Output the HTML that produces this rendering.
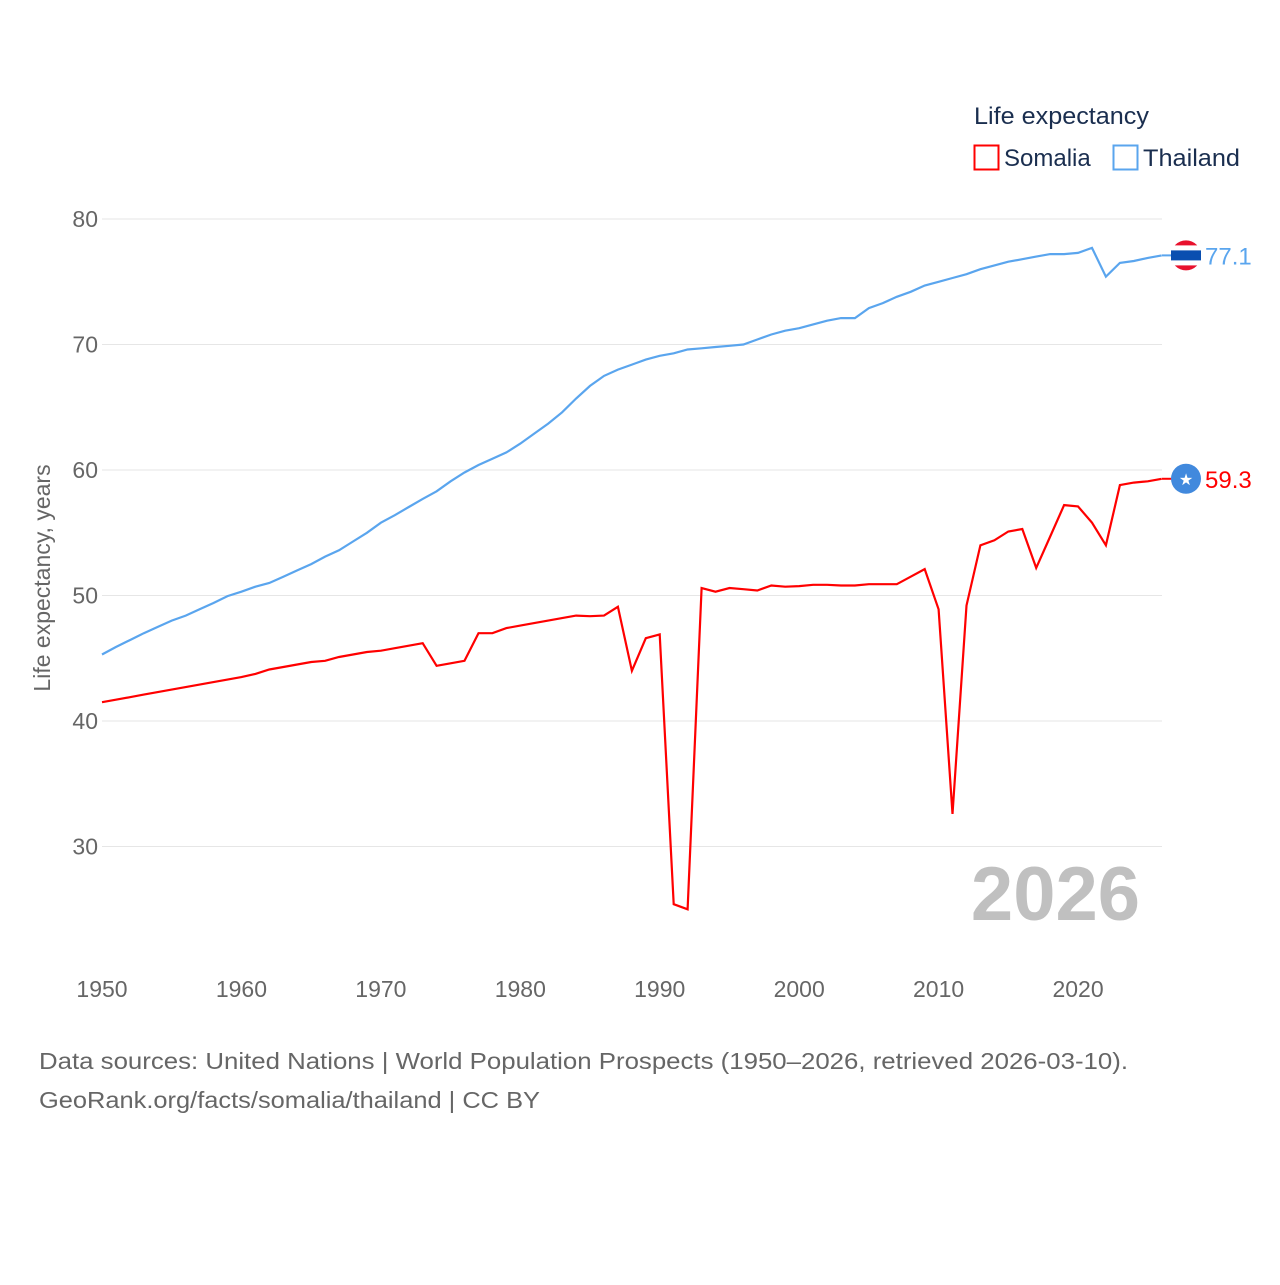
<!DOCTYPE html>
<html><head><meta charset="utf-8"><style>
body{margin:0;background:#fff;width:1280px;height:1280px;overflow:hidden;font-family:"Liberation Sans",sans-serif}
svg text{font-family:"Liberation Sans",sans-serif}
</style></head><body>
<svg id="chart" width="1280" height="1280" xmlns="http://www.w3.org/2000/svg">
<g id="grid"></g>
<g id="yticks"></g>
<g id="xticks"></g>
<text transform="translate(50,578) rotate(-90)" text-anchor="middle" font-size="23" fill="#666">Life expectancy, years</text>
<text x="1140" y="920" text-anchor="end" font-size="76" font-weight="bold" fill="#c0c0c0">2026</text>
<g id="series"></g>
<g>
<text x="974" y="124" font-size="24" fill="#1a2e4f" textLength="175" lengthAdjust="spacingAndGlyphs">Life expectancy</text>
<rect x="974.5" y="145.5" width="24" height="24" fill="none" stroke="#ff0000" stroke-width="2"/>
<text x="1004" y="166" font-size="24" fill="#1a2e4f">Somalia</text>
<rect x="1113.5" y="145.5" width="24" height="24" fill="none" stroke="#5aa5ee" stroke-width="2"/>
<text x="1143" y="166" font-size="24" fill="#1a2e4f" textLength="97" lengthAdjust="spacingAndGlyphs">Thailand</text>
</g>
<text x="39" y="1069" font-size="23" fill="#666" textLength="1089" lengthAdjust="spacingAndGlyphs">Data sources: United Nations | World Population Prospects (1950–2026, retrieved 2026-03-10).</text>
<text x="39" y="1108" font-size="23" fill="#666" textLength="501" lengthAdjust="spacingAndGlyphs">GeoRank.org/facts/somalia/thailand | CC BY</text>
</svg>
<script>
const years=[];for(let y=1950;y<=2026;y++)years.push(y);
const yTicks=[30,40,50,60,70,80];
const xTicks=[1950,1960,1970,1980,1990,2000,2010,2020];
const somalia=[41.5,41.7,41.9,42.1,42.3,42.5,42.7,42.9,43.1,43.3,43.5,43.75,44.1,44.3,44.5,44.7,44.8,45.1,45.3,45.5,45.6,45.8,46.0,46.2,44.4,44.6,44.8,47.0,47.0,47.4,47.6,47.8,48.0,48.2,48.4,48.35,48.4,49.1,44.0,46.6,46.9,25.4,25.0,50.6,50.3,50.6,50.5,50.4,50.8,50.7,50.75,50.85,50.85,50.8,50.8,50.9,50.9,50.9,51.5,52.1,48.9,32.6,49.2,54.0,54.4,55.1,55.3,52.2,54.7,57.2,57.1,55.8,54.0,58.8,59.0,59.1,59.3];
const thailand=[45.3,45.9,46.45,47.0,47.5,48.0,48.4,48.9,49.4,49.95,50.3,50.7,51.0,51.5,52.0,52.5,53.1,53.6,54.3,55.0,55.8,56.4,57.05,57.7,58.3,59.1,59.8,60.4,60.9,61.4,62.1,62.9,63.7,64.6,65.7,66.7,67.5,68.0,68.4,68.8,69.1,69.3,69.6,69.7,69.8,69.9,70.0,70.4,70.8,71.1,71.3,71.6,71.9,72.1,72.1,72.9,73.3,73.8,74.2,74.7,75.0,75.3,75.6,76.0,76.3,76.6,76.8,77.0,77.2,77.2,77.3,77.7,75.4,76.5,76.65,76.9,77.1];
const X=y=>102+(y-1950)*(1161.7-102)/76;
const Y=v=>219+(80-v)*12.55;
const NS='http://www.w3.org/2000/svg';
function mk(t,a,p){const e=document.createElementNS(NS,t);for(const k in a)e.setAttribute(k,a[k]);p.appendChild(e);return e;}
const grid=document.getElementById('grid'),yt=document.getElementById('yticks'),xt=document.getElementById('xticks'),ser=document.getElementById('series');
yTicks.forEach(v=>{
 const l=mk('line',{x1:102,x2:1162,y1:Y(v),y2:Y(v),stroke:'#e6e6e6','stroke-width':1},grid);
 
 
 const t=mk('text',{x:98,y:Y(v)+8,'text-anchor':'end','font-size':23,fill:'#666'},yt);t.textContent=v;
 
 
});
xTicks.forEach(v=>{
 const t=mk('text',{x:X(v),y:997,'text-anchor':'middle','font-size':23,fill:'#666'},xt);t.textContent=v;
 
 
});
function line(vals,color,name){
 const d=vals.map((v,i)=>(i?'L':'M')+X(years[i]).toFixed(1)+','+Y(v).toFixed(1)).join('');
 const p=mk('path',{d:d,fill:'none',stroke:color,'stroke-width':2.2,'stroke-linejoin':'miter'},ser);
 
 
 const last=vals[vals.length-1],cy=Y(last);
 mk('line',{x1:1162,x2:1172,y1:cy,y2:cy,stroke:color,'stroke-width':2},ser);
 const g=mk('g',{},ser);
 
 
 if(name==='thailand'){
  mk('circle',{cx:1186,cy:cy,r:15,fill:'#e8112d'},g);
  mk('rect',{x:1171,y:cy-10,width:30,height:20,fill:'#fff'},g);
  mk('rect',{x:1171,y:cy-5,width:30,height:10,fill:'#0a4fb0'},g);
 }else{
  mk('circle',{cx:1186,cy:cy,r:15,fill:'#4189dd'},g);
  const s=mk('text',{x:1186,y:cy+6,'text-anchor':'middle','font-size':16,fill:'#fff'},g);s.textContent='★';
 }
 const t=mk('text',{x:1205,y:cy+9,'font-size':24,fill:color},ser);t.textContent=last.toFixed(1);
 
 
}
line(thailand,'#5aa5ee','thailand');
line(somalia,'#ff0000','somalia');
</script>
</body></html>
